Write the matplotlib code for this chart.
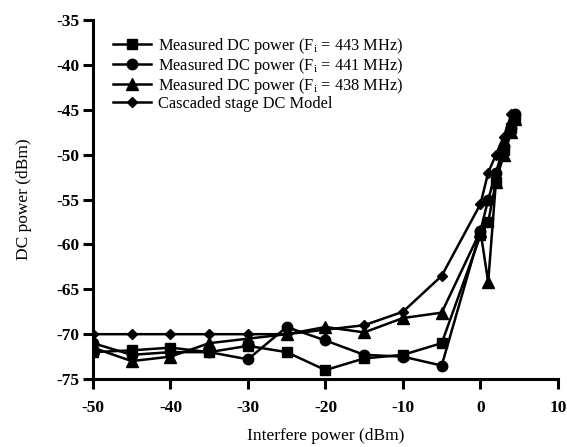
import matplotlib
matplotlib.use("Agg")
import matplotlib.pyplot as plt

plt.rcParams['font.family'] = ['Liberation Serif', 'DejaVu Serif']
plt.rcParams['mathtext.fontset'] = 'custom'
plt.rcParams['mathtext.rm'] = 'Liberation Serif'
plt.rcParams['mathtext.it'] = 'Liberation Serif:italic'
plt.rcParams['axes.unicode_minus'] = False

x_meas = [-50, -45, -40, -35, -30, -25, -20, -15, -10, -5, 0, 1, 2, 3, 4, 4.5]
y_443 = [-72, -71.8, -71.5, -72, -71.3, -72, -74, -72.7, -72.3, -71, -59, -57.5, -53, -49.5, -47, -46]
y_441 = [-71, -72.3, -72, -72, -72.8, -69.2, -70.7, -72.3, -72.5, -73.5, -58.5, -55, -52, -49, -47, -45.5]
y_438 = [-71.5, -73, -72.5, -71, -70.5, -70, -69.2, -69.8, -68.2, -67.6, -58.5, -64.2, -53, -50, -47.5, -46]
x_model = [-50, -45, -40, -35, -30, -25, -20, -15, -10, -5, 0, 1, 2, 3, 4]
y_model = [-70, -70, -70, -70, -70, -70, -69.5, -69, -67.5, -63.5, -55.5, -52, -50, -48, -45.5]

labels = [r'Measured DC power (F$_\mathrm{i}$ = 443 MHz)',
          r'Measured DC power (F$_\mathrm{i}$ = 441 MHz)',
          r'Measured DC power (F$_\mathrm{i}$ = 438 MHz)',
          'Cascaded stage DC Model']

fig = plt.figure(figsize=(5.67, 4.47), dpi=100)
ax = fig.add_axes([0.164, 0.152, 0.82, 0.803])

ax.plot(x_meas, y_443, color='black', marker='s', markersize=7.5, lw=1.8, label=labels[0])
ax.plot(x_meas, y_441, color='black', marker='o', markersize=7.5, lw=1.8, label=labels[1])
ax.plot(x_meas, y_438, color='black', marker='^', markersize=8, lw=1.8, label=labels[2])
ax.plot(x_model, y_model, color='black', marker='D', markersize=5.5, lw=1.8, label=labels[3])

ax.set_xlim(-50, 10)
ax.set_ylim(-75, -35)
ax.set_xticks([-50, -40, -30, -20, -10, 0, 10])
ax.set_yticks([-35, -40, -45, -50, -55, -60, -65, -70, -75])
ax.spines['top'].set_visible(False)
ax.spines['right'].set_visible(False)
for s in ('left', 'bottom'):
    ax.spines[s].set_linewidth(2.2)
ax.tick_params(direction='out', width=2.2, length=7, labelsize=12.5)
ax.tick_params(axis='x', pad=8)
ax.tick_params(axis='y', pad=3)
for lab in ax.get_xticklabels() + ax.get_yticklabels():
    lab.set_fontweight('bold')

ax.set_xlabel('Interfere power (dBm)', fontsize=12.5, labelpad=9)
ax.set_ylabel('DC power (dBm)', fontsize=12.5, labelpad=17)

ax.legend(loc='upper left', bbox_to_anchor=(0.03, 0.975), frameon=False, fontsize=11.8,
          handlelength=2.3, handletextpad=0.4, labelspacing=0.0, borderaxespad=0)

fig.savefig('out.png', dpi=100)
